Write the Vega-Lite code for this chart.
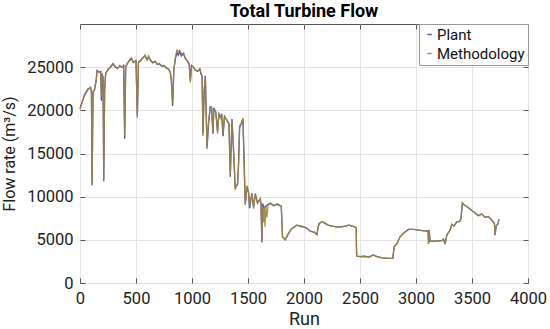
{
"$schema": "https://vega.github.io/schema/vega-lite/v6.json",
"width": 448, "height": 259,
"autosize": {"type": "none"},
"padding": {"left": 80, "top": 24, "right": 22, "bottom": 46},
"background": "white",
"title": {"text": "Total Turbine Flow", "fontSize": 18, "fontWeight": "bold", "font": "Roboto", "color": "#000", "offset": 3},
"config": {"view": {"stroke": "#555", "strokeWidth": 1}, "font": "Roboto"},
"data": {"values": [
{"run":0,"Plant":20200,"Methodology":20100},
{"run":20,"Plant":21000,"Methodology":21000},
{"run":40,"Plant":21800,"Methodology":21700},
{"run":72,"Plant":22500,"Methodology":22400},
{"run":95,"Plant":22600,"Methodology":22700},
{"run":102,"Plant":22200,"Methodology":22000},
{"run":108,"Plant":11300,"Methodology":11600},
{"run":116,"Plant":22000,"Methodology":22200},
{"run":131,"Plant":22500,"Methodology":22400},
{"run":145,"Plant":23500,"Methodology":23600},
{"run":152,"Plant":24600,"Methodology":24500},
{"run":170,"Plant":24400,"Methodology":24500},
{"run":185,"Plant":24500,"Methodology":24300},
{"run":191,"Plant":21100,"Methodology":21600},
{"run":198,"Plant":24200,"Methodology":24300},
{"run":206,"Plant":23800,"Methodology":23600},
{"run":212,"Plant":11800,"Methodology":12000},
{"run":220,"Plant":22500,"Methodology":22300},
{"run":229,"Plant":24300,"Methodology":24200},
{"run":250,"Plant":24700,"Methodology":24800},
{"run":270,"Plant":25000,"Methodology":24900},
{"run":295,"Plant":25400,"Methodology":25300},
{"run":315,"Plant":25000,"Methodology":25100},
{"run":335,"Plant":24900,"Methodology":24800},
{"run":355,"Plant":25100,"Methodology":25200},
{"run":375,"Plant":25000,"Methodology":25000},
{"run":390,"Plant":25200,"Methodology":25100},
{"run":399,"Plant":16700,"Methodology":17000},
{"run":408,"Plant":25000,"Methodology":25100},
{"run":425,"Plant":25500,"Methodology":25400},
{"run":445,"Plant":25800,"Methodology":25900},
{"run":459,"Plant":26000,"Methodology":26100},
{"run":475,"Plant":25600,"Methodology":25500},
{"run":500,"Plant":25700,"Methodology":25800},
{"run":512,"Plant":19400,"Methodology":19100},
{"run":522,"Plant":25600,"Methodology":25500},
{"run":539,"Plant":25700,"Methodology":25800},
{"run":560,"Plant":26100,"Methodology":26000},
{"run":580,"Plant":26300,"Methodology":26400},
{"run":600,"Plant":25900,"Methodology":25800},
{"run":613,"Plant":26200,"Methodology":26300},
{"run":630,"Plant":25800,"Methodology":25700},
{"run":650,"Plant":25500,"Methodology":25600},
{"run":670,"Plant":25700,"Methodology":25600},
{"run":690,"Plant":25300,"Methodology":25400},
{"run":710,"Plant":25400,"Methodology":25300},
{"run":730,"Plant":25100,"Methodology":25200},
{"run":750,"Plant":25200,"Methodology":25100},
{"run":770,"Plant":24900,"Methodology":25000},
{"run":790,"Plant":24800,"Methodology":24700},
{"run":806,"Plant":24400,"Methodology":24500},
{"run":816,"Plant":23500,"Methodology":23400},
{"run":827,"Plant":20500,"Methodology":20800},
{"run":838,"Plant":24800,"Methodology":24600},
{"run":852,"Plant":26000,"Methodology":26200},
{"run":866,"Plant":26700,"Methodology":27000},
{"run":878,"Plant":26400,"Methodology":26800},
{"run":890,"Plant":26800,"Methodology":26900},
{"run":905,"Plant":26300,"Methodology":26600},
{"run":925,"Plant":26600,"Methodology":26500},
{"run":940,"Plant":26000,"Methodology":26100},
{"run":960,"Plant":25700,"Methodology":25600},
{"run":975,"Plant":25300,"Methodology":25400},
{"run":985,"Plant":23400,"Methodology":23200},
{"run":995,"Plant":25200,"Methodology":25100},
{"run":1010,"Plant":25000,"Methodology":25100},
{"run":1030,"Plant":24700,"Methodology":24600},
{"run":1050,"Plant":24500,"Methodology":24600},
{"run":1070,"Plant":24800,"Methodology":24700},
{"run":1080,"Plant":24200,"Methodology":24400},
{"run":1090,"Plant":24000,"Methodology":23800},
{"run":1098,"Plant":17300,"Methodology":17000},
{"run":1108,"Plant":22000,"Methodology":22300},
{"run":1119,"Plant":24000,"Methodology":23800},
{"run":1126,"Plant":20000,"Methodology":20300},
{"run":1134,"Plant":15700,"Methodology":15500},
{"run":1148,"Plant":18500,"Methodology":18700},
{"run":1163,"Plant":20400,"Methodology":20300},
{"run":1175,"Plant":20200,"Methodology":20400},
{"run":1187,"Plant":17300,"Methodology":17600},
{"run":1195,"Plant":20300,"Methodology":20100},
{"run":1212,"Plant":19800,"Methodology":19900},
{"run":1228,"Plant":17600,"Methodology":17300},
{"run":1240,"Plant":19600,"Methodology":19700},
{"run":1252,"Plant":19300,"Methodology":19100},
{"run":1265,"Plant":19500,"Methodology":19600},
{"run":1277,"Plant":17000,"Methodology":17300},
{"run":1290,"Plant":19300,"Methodology":19200},
{"run":1312,"Plant":18800,"Methodology":18900},
{"run":1330,"Plant":18500,"Methodology":18300},
{"run":1342,"Plant":12300,"Methodology":12600},
{"run":1357,"Plant":19000,"Methodology":18800},
{"run":1372,"Plant":15000,"Methodology":15300},
{"run":1386,"Plant":11100,"Methodology":10800},
{"run":1407,"Plant":11400,"Methodology":11600},
{"run":1416,"Plant":14000,"Methodology":13700},
{"run":1425,"Plant":18000,"Methodology":18200},
{"run":1440,"Plant":18500,"Methodology":18400},
{"run":1455,"Plant":19000,"Methodology":19100},
{"run":1465,"Plant":14000,"Methodology":14300},
{"run":1475,"Plant":9200,"Methodology":9000},
{"run":1491,"Plant":11100,"Methodology":11300},
{"run":1505,"Plant":10500,"Methodology":10400},
{"run":1514,"Plant":8650,"Methodology":8900},
{"run":1535,"Plant":10400,"Methodology":10300},
{"run":1550,"Plant":8800,"Methodology":8600},
{"run":1565,"Plant":10300,"Methodology":10400},
{"run":1585,"Plant":9300,"Methodology":9200},
{"run":1609,"Plant":9700,"Methodology":9800},
{"run":1616,"Plant":9200,"Methodology":9100},
{"run":1624,"Plant":4700,"Methodology":5000},
{"run":1632,"Plant":9200,"Methodology":8900},
{"run":1640,"Plant":8800,"Methodology":7000},
{"run":1645,"Plant":8700,"Methodology":8900},
{"run":1652,"Plant":8800,"Methodology":6500},
{"run":1660,"Plant":8900,"Methodology":8800},
{"run":1668,"Plant":9000,"Methodology":7600},
{"run":1680,"Plant":9100,"Methodology":9000},
{"run":1700,"Plant":9200,"Methodology":9300},
{"run":1730,"Plant":9000,"Methodology":8900},
{"run":1760,"Plant":9100,"Methodology":9200},
{"run":1797,"Plant":8900,"Methodology":8900},
{"run":1808,"Plant":5350,"Methodology":5400},
{"run":1832,"Plant":5000,"Methodology":5000},
{"run":1862,"Plant":5750,"Methodology":5800},
{"run":1890,"Plant":6300,"Methodology":6300},
{"run":1937,"Plant":6700,"Methodology":6700},
{"run":1970,"Plant":6600,"Methodology":6500},
{"run":2000,"Plant":6500,"Methodology":6500},
{"run":2030,"Plant":6300,"Methodology":6300},
{"run":2055,"Plant":6000,"Methodology":6000},
{"run":2090,"Plant":5900,"Methodology":5900},
{"run":2115,"Plant":5600,"Methodology":5600},
{"run":2125,"Plant":6400,"Methodology":6400},
{"run":2136,"Plant":6900,"Methodology":6900},
{"run":2160,"Plant":7100,"Methodology":7100},
{"run":2190,"Plant":6900,"Methodology":6900},
{"run":2215,"Plant":6700,"Methodology":6700},
{"run":2250,"Plant":6600,"Methodology":6600},
{"run":2290,"Plant":6500,"Methodology":6500},
{"run":2330,"Plant":6500,"Methodology":6500},
{"run":2370,"Plant":6600,"Methodology":6600},
{"run":2400,"Plant":6700,"Methodology":6700},
{"run":2430,"Plant":6600,"Methodology":6600},
{"run":2455,"Plant":6500,"Methodology":6500},
{"run":2466,"Plant":6400,"Methodology":6400},
{"run":2470,"Plant":3100,"Methodology":3100},
{"run":2500,"Plant":3050,"Methodology":3050},
{"run":2540,"Plant":3100,"Methodology":3100},
{"run":2580,"Plant":3000,"Methodology":3000},
{"run":2620,"Plant":3250,"Methodology":3250},
{"run":2650,"Plant":3050,"Methodology":3050},
{"run":2700,"Plant":2900,"Methodology":2900},
{"run":2750,"Plant":2850,"Methodology":2850},
{"run":2793,"Plant":2850,"Methodology":2850},
{"run":2805,"Plant":4200,"Methodology":4200},
{"run":2829,"Plant":4550,"Methodology":4550},
{"run":2858,"Plant":5350,"Methodology":5350},
{"run":2888,"Plant":5750,"Methodology":5750},
{"run":2933,"Plant":6200,"Methodology":6200},
{"run":2977,"Plant":6200,"Methodology":6200},
{"run":3037,"Plant":6100,"Methodology":6100},
{"run":3096,"Plant":6000,"Methodology":6000},
{"run":3108,"Plant":6050,"Methodology":6050},
{"run":3112,"Plant":4550,"Methodology":4550},
{"run":3118,"Plant":6100,"Methodology":6100},
{"run":3125,"Plant":4850,"Methodology":4850},
{"run":3170,"Plant":4850,"Methodology":4850},
{"run":3230,"Plant":4900,"Methodology":4900},
{"run":3245,"Plant":5100,"Methodology":5100},
{"run":3260,"Plant":4500,"Methodology":4500},
{"run":3275,"Plant":5550,"Methodology":5550},
{"run":3304,"Plant":6100,"Methodology":6100},
{"run":3319,"Plant":6800,"Methodology":6800},
{"run":3340,"Plant":6600,"Methodology":6600},
{"run":3364,"Plant":7100,"Methodology":7100},
{"run":3390,"Plant":7100,"Methodology":7100},
{"run":3402,"Plant":7500,"Methodology":7500},
{"run":3414,"Plant":9270,"Methodology":9270},
{"run":3435,"Plant":9000,"Methodology":9000},
{"run":3460,"Plant":8800,"Methodology":8800},
{"run":3498,"Plant":8400,"Methodology":8400},
{"run":3520,"Plant":8200,"Methodology":8200},
{"run":3557,"Plant":7800,"Methodology":7800},
{"run":3587,"Plant":8000,"Methodology":8000},
{"run":3617,"Plant":7600,"Methodology":7600},
{"run":3645,"Plant":7700,"Methodology":7700},
{"run":3676,"Plant":7300,"Methodology":7300},
{"run":3700,"Plant":6900,"Methodology":6900},
{"run":3706,"Plant":5550,"Methodology":5550},
{"run":3715,"Plant":6600,"Methodology":6600},
{"run":3730,"Plant":6800,"Methodology":6800},
{"run":3741,"Plant":7400,"Methodology":7400}
]},
"layer": [
 {"layer": [
  {"mark": {"type": "line", "strokeWidth": 1.3},
   "encoding": {
    "x": {"field": "run", "type": "quantitative", "scale": {"domain": [0, 4000], "nice": false},
          "axis": {"title": "Run", "values": [0,500,1000,1500,2000,2500,3000,3500,4000], "format": "d", "grid": true, "gridColor": "#e4e4e4", "domain": false, "tickColor": "#555", "tickSize": -5, "labelFontSize": 16.5, "labelColor": "#222", "labelPadding": 12, "titleFontSize": 18, "titleFontWeight": "normal", "titleColor": "#222", "titlePadding": 4, "labelFlush": false}},
    "y": {"field": "Plant", "type": "quantitative", "scale": {"domain": [0, 30000], "nice": false},
          "axis": {"title": "Flow rate (m³/s)", "values": [0,5000,10000,15000,20000,25000], "format": "d", "grid": true, "gridColor": "#e4e4e4", "domain": false, "tickColor": "#555", "tickSize": -5, "labelFontSize": 16.5, "labelColor": "#222", "labelPadding": 12, "titleFontSize": 16, "titleFontWeight": "normal", "titleColor": "#222", "titlePadding": 9}},
    "color": {"datum": "Plant", "type": "nominal", "scale": {"domain": ["Plant", "Methodology"], "range": ["#4a4aa8", "#9a8540"]},
              "legend": {"title": null, "orient": "top-right", "offset": 0, "padding": 3, "strokeColor": "#999", "fillColor": "white", "labelFontSize": 15, "labelColor": "#111", "symbolType": "stroke", "symbolSize": 20, "symbolStrokeWidth": 1.5, "rowPadding": 3, "labelOffset": 0, "cornerRadius": 0}}
   }},
  {"mark": {"type": "line", "strokeWidth": 1.3, "opacity": 0.9},
   "encoding": {
    "x": {"field": "run", "type": "quantitative"},
    "y": {"field": "Methodology", "type": "quantitative", "title": "Flow rate (m³/s)"},
    "color": {"datum": "Methodology", "type": "nominal"}
   }}
 ]},
 {"mark": {"type": "line", "opacity": 0},
  "encoding": {
   "x": {"field": "run", "type": "quantitative", "scale": {"domain": [0, 4000], "nice": false},
         "axis": {"orient": "top", "title": null, "values": [0,500,1000,1500,2000,2500,3000,3500,4000], "labels": false, "grid": false, "domain": false, "tickColor": "#555", "tickSize": -5}},
   "y": {"field": "Plant", "type": "quantitative", "scale": {"domain": [0, 30000], "nice": false},
         "axis": {"orient": "right", "title": null, "values": [0,5000,10000,15000,20000,25000], "labels": false, "grid": false, "domain": false, "tickColor": "#555", "tickSize": -5}}
  }}
],
"resolve": {"scale": {"x": "independent", "y": "independent"}}
}
